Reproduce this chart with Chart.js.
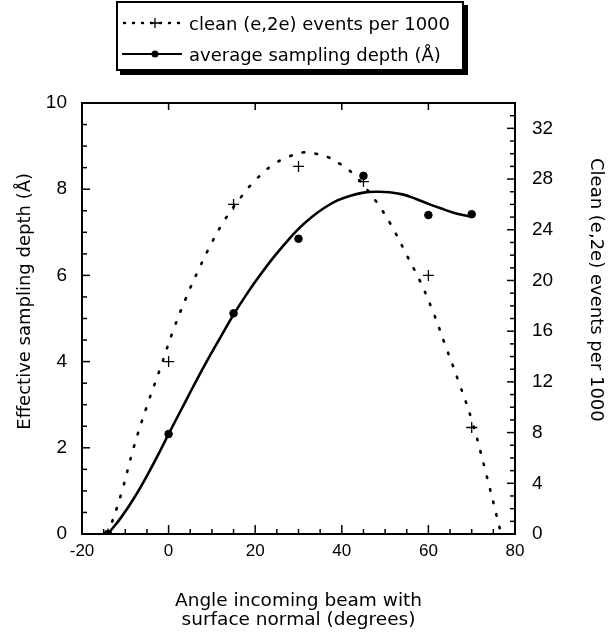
<!DOCTYPE html>
<html>
<head>
<meta charset="utf-8">
<title>Sampling depth vs angle</title>
<script src="https://cdn.jsdelivr.net/npm/chart.js@4.4.1/dist/chart.umd.min.js"></script>
<style>
    html, body { margin: 0; padding: 0; background: #fff; }
    #wrap { position: relative; width: 615px; height: 637px; }
    #wrap canvas { position: absolute; left: 0; top: 0; }
    #legend {
        position: absolute; left: 116px; top: 1px; width: 344px; height: 66px;
        border: 2px solid #000; background: #fff; box-shadow: 4px 4px 0 #000;
        font-family: "DejaVu Sans", sans-serif; font-size: 18px; color: #000;
    }
    #legend .row { position: absolute; left: 4px; height: 24px; display: flex; align-items: center; }
    #legend svg { margin-right: 5px; }
</style>
</head>
<body>
<div id="wrap">
    <canvas id="chart" width="615" height="637"></canvas>
    <div id="legend">
        <div class="row" style="top: 8px;">
            <svg width="62" height="14"><line x1="2" y1="7" x2="60" y2="7" stroke="#000" stroke-width="2.4" stroke-dasharray="1 8" stroke-linecap="round"/><path d="M33 2 V12 M28 7 H38" stroke="#000" stroke-width="1.3"/></svg>
            <span>clean (e,2e) events per 1000</span>
        </div>
        <div class="row" style="top: 39px;">
            <svg width="62" height="14"><line x1="0" y1="7" x2="60" y2="7" stroke="#000" stroke-width="2"/><circle cx="33" cy="7" r="3.5" fill="#000"/></svg>
            <span>average sampling depth (Å)</span>
        </div>
    </div>
</div>
<script>
// measured points
const anglePoints = [-14, 0, 15, 30, 45, 60, 70];
const depthPoints = [0, 2.32, 5.12, 6.85, 8.31, 7.40, 7.42];
const eventPoints = [0, 13.6, 26.0, 29.0, 27.8, 20.4, 8.4];

// fitted curves
const depthFitAngles = [-14, -11, -8, -5, -2, 0, 3, 6, 9, 12, 15, 18, 21, 24, 27, 30, 33, 36, 39, 42, 45, 48, 51, 54, 57, 60, 63, 66, 70];
const depthFitValues = [0, 0.38, 0.83, 1.35, 1.92, 2.32, 2.90, 3.48, 4.04, 4.57, 5.09, 5.56, 5.99, 6.39, 6.75, 7.08, 7.35, 7.57, 7.74, 7.85, 7.92, 7.94, 7.93, 7.88, 7.78, 7.66, 7.55, 7.45, 7.36];
const eventFitAngles = [-14, -11, -8, -5, -2, 1, 4, 7, 10, 13, 17, 20, 24, 28, 31, 34, 37, 40, 43, 46, 49, 52, 55, 58, 61, 64, 67, 70, 73, 76.8];
const eventFitValues = [0, 3.1, 6.9, 10.1, 13.0, 16.0, 18.6, 20.9, 23.0, 24.8, 26.7, 27.9, 29.1, 29.8, 30.1, 30.0, 29.7, 29.1, 28.3, 27.1, 25.7, 24.0, 22.0, 20.0, 17.6, 14.8, 12.0, 9.0, 5.2, 0];

// axis tick labels
const angleLabels = [-20, 0, 20, 40, 60, 80];
const depthLabels = [0, 2, 4, 6, 8, 10];
const eventLabels = [0, 4, 8, 12, 16, 20, 24, 28, 32];

const pairs = (xs, ys) => xs.map((x, i) => ({ x: x, y: ys[i] }));

// ticks drawn inward from each axis line
const innerTicks = {
    id: 'innerTicks',
    afterDraw(chart, args, opts) {
        const ctx = chart.ctx;
        const a = chart.chartArea;
        ctx.save();
        ctx.strokeStyle = '#000';
        ctx.lineWidth = 1.5;
        Object.keys(opts.axes || {}).forEach((id) => {
            const s = chart.scales[id];
            const o = opts.axes[id];
            if (!s) return;
            s.ticks.forEach((t) => {
                const r = t.value / o.major;
                const len = Math.abs(r - Math.round(r)) < 1e-6 ? o.majorLen : o.minorLen;
                const p = s.getPixelForValue(t.value);
                ctx.beginPath();
                if (o.side === 'bottom') { ctx.moveTo(p, a.bottom); ctx.lineTo(p, a.bottom - len); }
                if (o.side === 'top') { ctx.moveTo(p, a.top); ctx.lineTo(p, a.top + len); }
                if (o.side === 'left') { ctx.moveTo(a.left, p); ctx.lineTo(a.left + len, p); }
                if (o.side === 'right') { ctx.moveTo(a.right, p); ctx.lineTo(a.right - len, p); }
                ctx.stroke();
            });
        });
        ctx.restore();
    }
};

const tickFont = { family: '"Liberation Sans", Arial, sans-serif', size: 19 };
const titleFont = { family: '"DejaVu Sans", sans-serif', size: 18, lineHeight: 1.05 };
const border = { display: true, color: '#000', width: 2 };
const noGrid = { display: false, drawTicks: false };
const showOnly = (list) => (v) => (list.includes(v) ? String(v) : '');

new Chart(document.getElementById('chart').getContext('2d'), {
    type: 'scatter',
    data: {
        datasets: [
            {
                label: 'average sampling depth fit',
                data: pairs(depthFitAngles, depthFitValues),
                yAxisID: 'y',
                showLine: true,
                borderColor: '#000',
                borderWidth: 2.6,
                pointRadius: 0,
                tension: 0.4
            },
            {
                label: 'average sampling depth (Å)',
                data: pairs(anglePoints, depthPoints),
                yAxisID: 'y',
                pointStyle: 'circle',
                pointRadius: 3.8,
                backgroundColor: '#000',
                borderColor: '#000'
            },
            {
                label: 'clean (e,2e) events fit',
                data: pairs(eventFitAngles, eventFitValues),
                yAxisID: 'y2',
                showLine: true,
                borderColor: '#000',
                borderWidth: 2.6,
                borderDash: [1.5, 11.5],
                borderCapStyle: 'round',
                pointRadius: 0,
                tension: 0.4
            },
            {
                label: 'clean (e,2e) events per 1000',
                data: pairs(anglePoints, eventPoints),
                yAxisID: 'y2',
                pointStyle: 'cross',
                pointRadius: 5.5,
                borderWidth: 1.3,
                borderColor: '#000'
            }
        ]
    },
    options: {
        responsive: false,
        animation: false,
        layout: { padding: 0 },
        plugins: {
            legend: { display: false },
            tooltip: { enabled: false },
            innerTicks: {
                axes: {
                    x: { side: 'bottom', major: 20, majorLen: 9, minorLen: 5 },
                    x2: { side: 'top', major: 20, majorLen: 7, minorLen: 7 },
                    y: { side: 'left', major: 2, majorLen: 8, minorLen: 5 },
                    y2: { side: 'right', major: 4, majorLen: 8, minorLen: 5 }
                }
            }
        },
        scales: {
            x: {
                type: 'linear', position: 'bottom', min: -20, max: 80,
                grid: noGrid, border: border,
                ticks: { stepSize: 5, autoSkip: false, maxRotation: 0, padding: 7, color: '#000', font: { family: tickFont.family, size: 17 }, callback: showOnly(angleLabels) },
                title: { display: true, text: ['Angle incoming beam with', 'surface normal (degrees)'], color: '#000', font: { family: titleFont.family, size: 18.5, lineHeight: 1.05 }, padding: { top: 0, bottom: 7 } },
                afterFit: (s) => { s.height = 103; }
            },
            x2: {
                type: 'linear', position: 'top', min: -20, max: 80,
                grid: noGrid, border: border,
                ticks: { stepSize: 20, display: false },
                afterFit: (s) => { s.height = 103; }
            },
            y: {
                type: 'linear', position: 'left', min: 0, max: 10,
                grid: noGrid, border: border,
                ticks: { stepSize: 0.5, autoSkip: false, padding: 15, color: '#000', font: tickFont, callback: showOnly(depthLabels) },
                // leading spaces nudge the centred title up, as in the original
                title: { display: true, text: '      Effective sampling depth (Å)', color: '#000', font: titleFont, padding: { top: 16, bottom: 0 } },
                afterFit: (s) => { s.width = 82; }
            },
            y2: {
                type: 'linear', position: 'right', min: 0, max: 34,
                grid: noGrid, border: border,
                ticks: { stepSize: 1, autoSkip: false, padding: 17, color: '#000', font: tickFont, callback: showOnly(eventLabels) },
                title: { display: true, text: 'Clean (e,2e) events per 1000          ', color: '#000', font: titleFont, padding: { top: 10, bottom: 0 } },
                afterFit: (s) => { s.width = 100; }
            }
        }
    },
    plugins: [innerTicks]
});
</script>
</body>
</html>
